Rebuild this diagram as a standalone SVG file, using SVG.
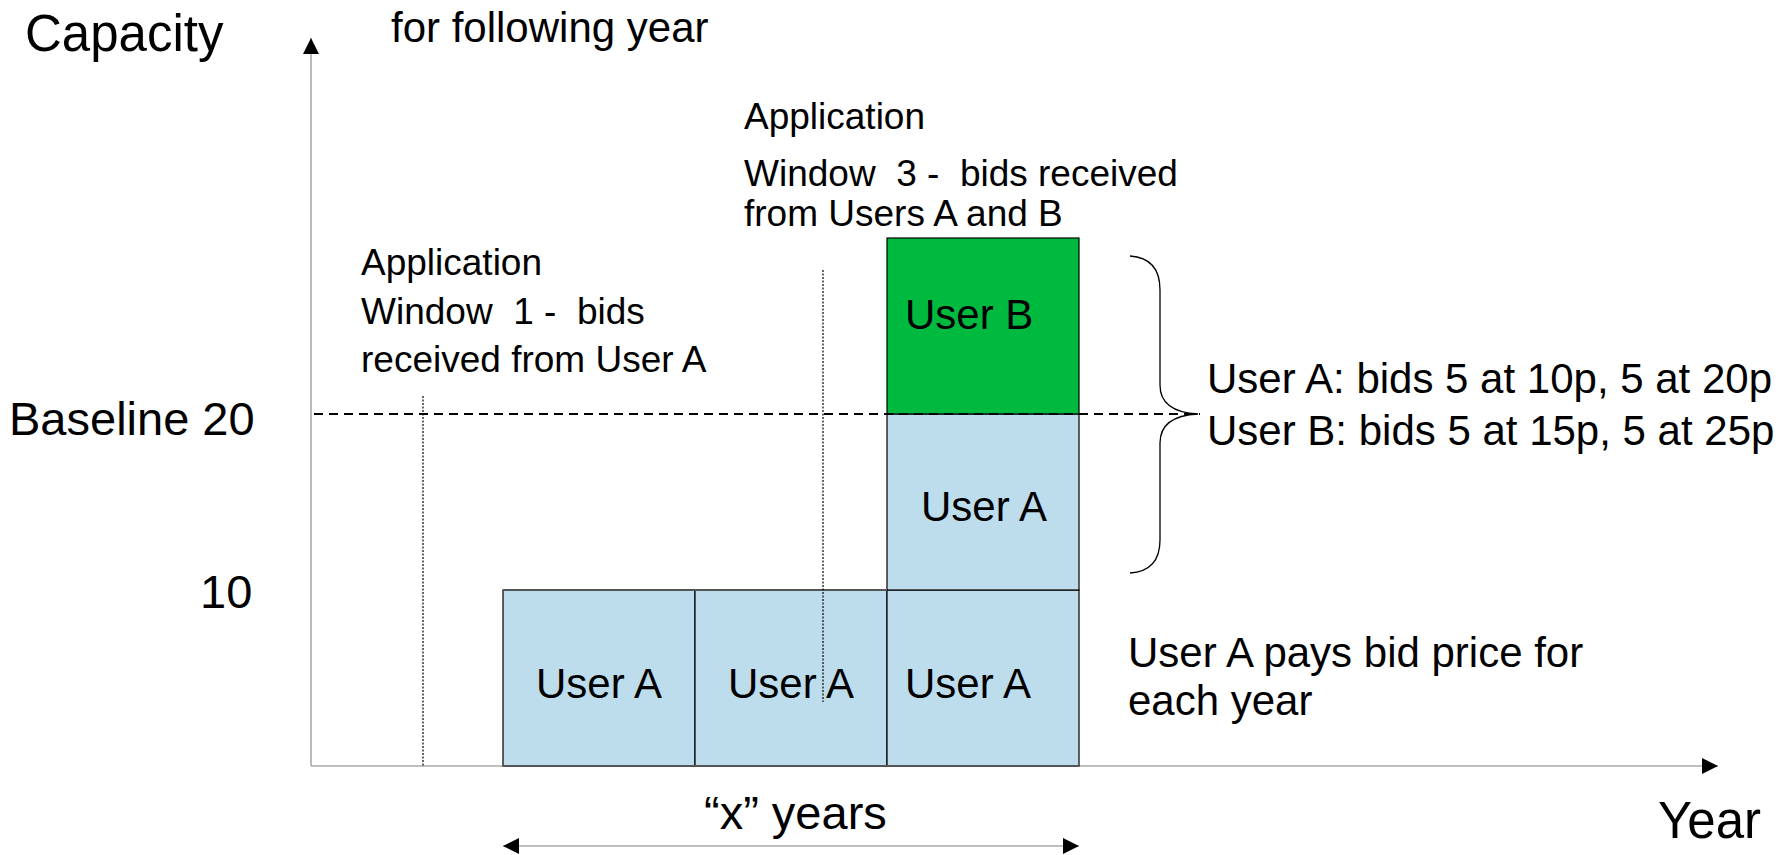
<svg xmlns="http://www.w3.org/2000/svg" width="1789" height="855" viewBox="0 0 1789 855">
<style>
text{font-family:"Liberation Sans",Arial,sans-serif;fill:#000}
.big{font-size:51px}
.lbl{font-size:47px}
.box{font-size:42px}
.app{font-size:37px;white-space:pre}
.note{font-size:42px}
.blue{fill:#BDDCEC;stroke:#000;stroke-width:1.2}
.green{fill:#00BA40;stroke:#000;stroke-width:1.2}
.axis{stroke:#AAAAAA;stroke-width:1.6;fill:none}
.dot{stroke:#000;stroke-width:1.2;stroke-dasharray:2 1.5;fill:none}
</style>
<defs>
<marker id="ahb" viewBox="0 0 10 10" refX="10" refY="5" markerWidth="18" markerHeight="16" markerUnits="userSpaceOnUse" orient="auto-start-reverse"><path d="M0,0 L10,5 L0,10 Z" fill="#000"/></marker>
</defs>
<rect width="1789" height="855" fill="#fff"/>
<g id="axes">
<line class="axis" x1="311" y1="766" x2="311" y2="38" marker-end="url(#ahb)"/>
<line class="axis" x1="311" y1="766" x2="1718" y2="766" marker-end="url(#ahb)"/>
</g>
<g id="box-a1"><rect class="blue" x="503" y="590" width="192" height="176"/><text class="box" x="536" y="698">User A</text></g>
<g id="box-a2"><rect class="blue" x="695" y="590" width="192" height="176"/><text class="box" x="728" y="698">User A</text></g>
<g id="box-a3"><rect class="blue" x="887" y="590" width="192" height="176"/><text class="box" x="905" y="698">User A</text></g>
<g id="box-a4"><rect class="blue" x="887" y="414" width="192" height="176"/><text class="box" x="921" y="521">User A</text></g>
<g id="box-b"><rect class="green" x="887" y="238" width="192" height="176"/><text class="box" x="905" y="329">User B</text></g>
<g id="edges">
<line x1="503" y1="766" x2="1079" y2="766" stroke="#555" stroke-width="2"/>
<line x1="503" y1="590" x2="887" y2="590" stroke="#555" stroke-width="2"/>
</g>
<g id="connectors">
<line class="axis" x1="503" y1="846" x2="1079" y2="846" marker-start="url(#ahb)" marker-end="url(#ahb)"/>
<line x1="314" y1="414" x2="1200" y2="414" stroke="#000" stroke-width="2" stroke-dasharray="9 6"/>
<line class="dot" x1="423" y1="396" x2="423" y2="766"/>
<line class="dot" x1="823" y1="270" x2="823" y2="702"/>
<path d="M1130,256 Q1160,258 1160,290 L1160,385 Q1160,412 1198,414 Q1160,416 1160,443 L1160,540 Q1160,571 1130,573" fill="none" stroke="#000" stroke-width="1.3"/>
</g>
<g id="labels">
<text class="big" x="25" y="51">Capacity</text>
<text class="big" x="1658" y="838">Year</text>
<text class="lbl" x="9" y="435">Baseline 20</text>
<text class="lbl" x="200" y="608">10</text>
<text class="lbl" x="704" y="829">“x” years</text>
<text class="note" x="391" y="42">for following year</text>
<text class="app" x="744" y="129">Application</text>
<text class="app" x="744" y="186">Window  3 -  bids received</text>
<text class="app" x="744" y="226">from Users A and B</text>
<text class="app" x="361" y="275">Application</text>
<text class="app" x="361" y="324">Window  1 -  bids</text>
<text class="app" x="361" y="372">received from User A</text>
<text class="note" x="1207" y="393">User A: bids 5 at 10p, 5 at 20p</text>
<text class="note" x="1207" y="445">User B: bids 5 at 15p, 5 at 25p</text>
<text class="note" x="1128" y="667">User A pays bid price for</text>
<text class="note" x="1128" y="715">each year</text>
</g>
</svg>
